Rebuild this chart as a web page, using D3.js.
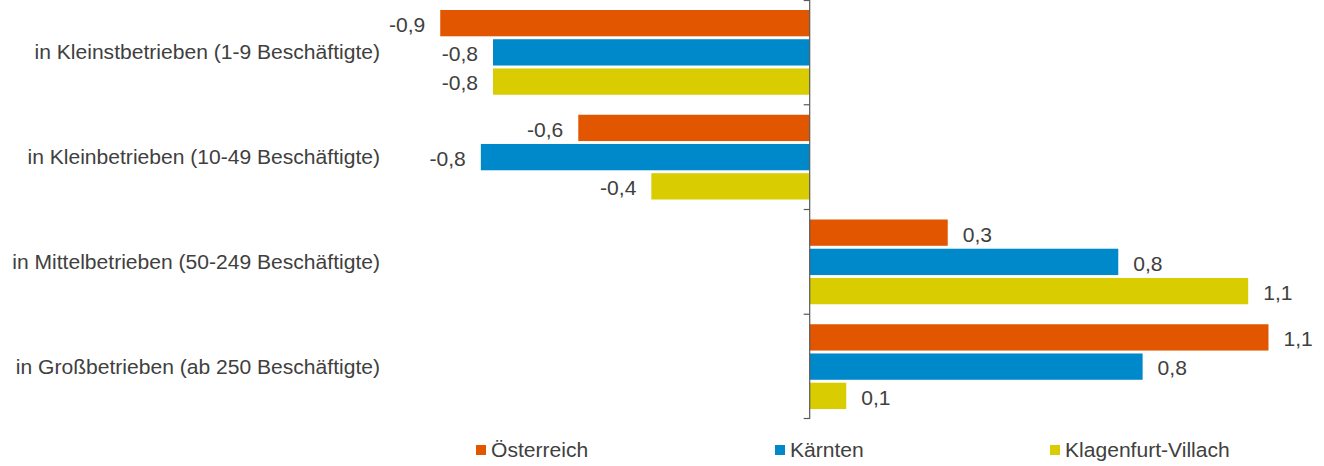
<!DOCTYPE html>
<html lang="de">
<head>
<meta charset="UTF-8">
<title>Beschäftigung nach Betriebsgröße</title>
<script src="https://d3js.org/d3.v7.min.js"></script>
<style>
  body { margin: 0; background: #fff; }
  text { font-family: "Liberation Sans", Arial, sans-serif; fill: #404040; }
</style>
</head>
<body>
<div id="chart"></div>
<script>
// categories and series
const categories = [
  "in Kleinstbetrieben (1-9 Beschäftigte)",
  "in Kleinbetrieben (10-49 Beschäftigte)",
  "in Mittelbetrieben (50-249 Beschäftigte)",
  "in Großbetrieben (ab 250 Beschäftigte)"
];
const seriesNames = ["Österreich", "Kärnten", "Klagenfurt-Villach"];
const oesterreich = [-0.91, -0.57, 0.34, 1.13];
const kaernten = [-0.78, -0.81, 0.76, 0.82];
const klagenfurtVillach = [-0.78, -0.39, 1.08, 0.09];
const colors = ["#e25600", "#0089ca", "#d9cc00"];

const seriesValues = [oesterreich, kaernten, klagenfurtVillach];

const width = 1324, height = 466;
const fontSize = 19.7, stretch = 1.07;

const svg = d3.select("#chart").append("svg")
  .attr("width", width)
  .attr("height", height);

// value scale (hidden axis), domain -1 .. 1.2
const x = d3.scaleLinear().domain([-1, 1.2]).range([403.7, 1296.9]);

const y0 = d3.scaleBand().domain(categories).range([0, 419]);
const y1 = d3.scaleBand().domain(seriesNames)
  .range([10, y0.bandwidth() - 10])
  .paddingInner(0.1);

const fmt = v => d3.format(".1f")(v).replace(".", ",").replace("−", "-");

function stretchedText(sel, tx, ty, dy) {
  return sel.attr("transform", d => `translate(${tx(d)},${ty(d)}) scale(${stretch},1)`)
    .attr("font-size", fontSize)
    .attr("dy", dy || "0.35em");
}

// bars
const groups = svg.append("g").selectAll("g")
  .data(categories)
  .join("g")
  .attr("transform", d => `translate(0,${y0(d)})`);

const cells = groups.selectAll("g")
  .data((c, i) => seriesNames.map((s, j) => ({ series: s, j, value: seriesValues[j][i] })))
  .join("g");

cells.append("rect")
  .attr("x", d => Math.min(x(0), x(d.value)))
  .attr("y", d => y1(d.series))
  .attr("width", d => Math.abs(x(d.value) - x(0)))
  .attr("height", y1.bandwidth())
  .attr("fill", d => colors[d.j]);

stretchedText(cells.append("text"),
    d => d.value < 0 ? x(d.value) - 15 : x(d.value) + 15,
    d => y1(d.series) + y1.bandwidth() / 2, "0.45em")
  .attr("text-anchor", d => d.value < 0 ? "end" : "start")
  .text(d => fmt(d.value));

// category axis at zero
const axis = svg.append("g").attr("transform", `translate(${x(0)},0)`);
axis.append("line")
  .attr("y1", 0).attr("y2", 419)
  .attr("stroke", "#595959").attr("stroke-width", 1.2);
axis.selectAll(".tick")
  .data(d3.range(categories.length + 1))
  .join("line")
  .attr("x1", -6).attr("x2", 0)
  .attr("y1", i => Math.min(418.5, Math.max(0.5, i * y0.step())))
  .attr("y2", i => Math.min(418.5, Math.max(0.5, i * y0.step())))
  .attr("stroke", "#595959").attr("stroke-width", 1.2);

// category labels (low position)
stretchedText(svg.append("g").selectAll("text").data(categories).join("text"),
    () => 380,
    d => y0(d) + y0.bandwidth() / 2)
  .attr("text-anchor", "end")
  .text(d => d);

// legend
const legendX = [476, 775, 1050];
const legend = svg.append("g").selectAll("g")
  .data(seriesNames)
  .join("g")
  .attr("transform", (d, i) => `translate(${legendX[i]},450)`);
legend.append("rect")
  .attr("x", 0).attr("y", -5)
  .attr("width", 10).attr("height", 10)
  .attr("fill", (d, i) => colors[i]);
stretchedText(legend.append("text"), () => 15, () => 0)
  .text(d => d);
</script>
</body>
</html>
